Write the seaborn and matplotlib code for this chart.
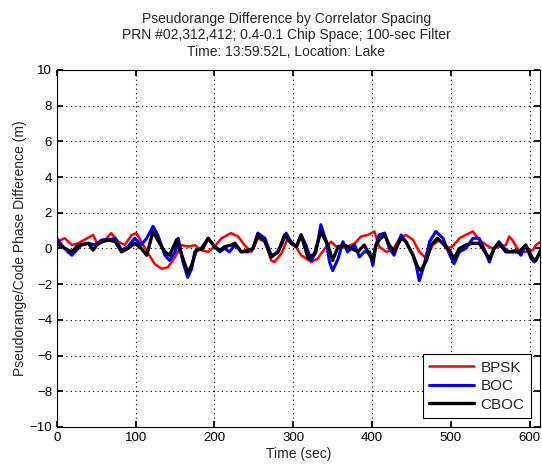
import numpy as np
import pandas as pd
import seaborn as sns
import matplotlib
matplotlib.use("Agg")
import matplotlib.pyplot as plt

# values (time in sec, difference in m)
bpsk_time = [0, 10, 19, 27, 40, 46, 52, 61, 69, 78, 86, 95, 101, 107, 116, 124, 133, 141, 150, 158,
             167, 175, 183, 192, 200, 209, 221, 230, 238, 247, 255, 264, 272, 276, 285, 293, 302, 310,
             323, 331, 340, 348, 357, 369, 378, 386, 395, 403, 409, 418, 426, 435, 443, 452, 460, 469,
             477, 486, 494, 502, 511, 519, 528, 536, 545, 553, 562, 570, 574, 578, 587, 595, 604, 608, 614]
bpsk_diff = [0.38, 0.57, 0.19, 0.29, 0.61, 0.76, 0.19, 0.48, 0.86, 0.38, 0.19, 0.76, 0.86, 0.38, -0.29,
             -0.86, -1.14, -1.05, -0.48, 0.19, 0.10, 0.19, -0.10, -0.19, 0.10, 0.57, 0.86, 0.67, 0.19,
             -0.19, 0.57, 0.38, -0.67, -0.76, -0.29, 0.57, 0.19, -0.38, -0.76, -0.57, 0.0, 0.38, 0.0,
             0.10, 0.29, 0.67, 0.76, 0.95, 0.10, -0.19, -0.10, 0.57, 0.76, 0.48, -0.19, -0.57, 0.19,
             0.48, 0.0, 0.10, 0.57, 0.76, 0.95, 0.48, 0.19, 0.0, 0.10, 0.19, 0.67, 0.48, -0.19, -0.19,
             -0.10, 0.19, 0.38]

boc_time = [0, 6, 14, 19, 25, 31, 40, 48, 57, 65, 74, 82, 90, 99, 107, 114, 122, 128, 137, 143, 150,
            154, 160, 166, 171, 175, 183, 192, 200, 207, 213, 219, 226, 234, 243, 249, 255, 264, 272,
            278, 285, 291, 297, 304, 310, 316, 323, 329, 335, 342, 346, 350, 357, 363, 369, 378, 384,
            390, 397, 401, 405, 409, 416, 422, 428, 437, 443, 452, 456, 460, 466, 473, 481, 490, 498,
            504, 511, 519, 528, 536, 542, 549, 555, 561, 568, 574, 583, 589, 595, 602, 606, 614]
boc_diff = [0.57, 0.19, -0.19, -0.38, -0.10, 0.19, 0.29, 0.19, 0.48, 0.48, 0.57, -0.10, 0.10, 0.57,
            0.19, 0.57, 1.24, 0.76, -0.38, -0.67, -0.19, 0.57, -0.76, -1.62, -1.14, -0.19, 0.0, 0.57,
            0.10, -0.19, 0.0, -0.19, 0.19, -0.19, -0.19, 0.0, 0.86, 0.57, -0.38, -0.29, 0.19, 0.86,
            0.38, 0.10, 0.76, 0.19, -0.67, -0.19, 1.33, 0.38, -0.76, -1.24, -0.57, 0.38, -0.19, 0.19,
            -0.48, -0.19, -0.19, -0.95, 0.19, 0.76, 0.86, 0.0, -0.38, 0.76, 0.38, -0.38, -0.95, -1.81,
            -0.95, 0.38, 0.95, 0.57, -0.29, -0.86, -0.19, 0.0, 0.57, 0.57, 0.0, -0.76, 0.0, 0.38, 0.0,
            -0.19, -0.10, -0.38, 0.19, -0.57, -0.76, -0.19]

cboc_time = [0, 10, 19, 27, 40, 46, 52, 65, 74, 82, 90, 99, 107, 114, 122, 128, 137, 143, 152, 160,
             166, 171, 177, 185, 192, 200, 207, 213, 221, 226, 234, 243, 249, 255, 264, 272, 281, 289,
             297, 304, 310, 319, 327, 335, 344, 350, 357, 365, 374, 382, 390, 397, 401, 405, 409, 416,
             422, 428, 437, 443, 452, 458, 462, 469, 475, 483, 492, 498, 504, 511, 519, 528, 536, 542,
             549, 555, 561, 570, 578, 587, 595, 604, 608, 614]
cboc_diff = [0.29, 0.0, -0.19, 0.19, 0.29, -0.10, 0.29, 0.48, 0.38, -0.19, 0.0, 0.29, 0.0, -0.38,
             0.95, 0.48, -0.19, -0.38, 0.48, -0.57, -1.33, -0.95, -0.10, 0.0, 0.57, 0.10, -0.10, 0.10,
             0.19, 0.29, -0.19, -0.10, 0.0, 0.76, 0.38, -0.48, -0.19, 0.76, 0.29, 0.10, 0.76, -0.57,
             -0.29, 0.95, 0.19, -0.67, 0.10, 0.19, 0.0, -0.19, 0.19, -0.38, -0.67, 0.19, 0.48, 0.76,
             0.19, -0.19, 0.57, 0.38, -0.38, -1.05, -1.24, -0.67, 0.19, 0.57, 0.19, -0.10, -0.57, 0.0,
             0.19, 0.29, 0.29, -0.10, -0.57, 0.0, 0.29, -0.19, -0.19, -0.19, 0.19, -0.57, -0.67, -0.10]

x_ticks = [0, 100, 200, 300, 400, 500, 600]
y_ticks = [-10, -8, -6, -4, -2, 0, 2, 4, 6, 8, 10]

sns.set_theme(style="ticks")
plt.rcParams['font.family'] = ['Liberation Sans', 'DejaVu Sans']

fig = plt.figure(figsize=(5.42, 4.66), dpi=100)
ax = fig.add_axes([0.105, 0.0837, 0.891, 0.7663])

sns.lineplot(x=bpsk_time, y=bpsk_diff, color="#ff0000", linewidth=1.8, label="BPSK", ax=ax)
sns.lineplot(x=boc_time, y=boc_diff, color="#0000ff", linewidth=2.2, label="BOC", ax=ax)
sns.lineplot(x=cboc_time, y=cboc_diff, color="#000000", linewidth=2.4, label="CBOC", ax=ax)

ax.set_xlim(0, 613)
ax.set_ylim(-10, 10)
ax.set_xticks(x_ticks)
ax.set_yticks(y_ticks)
ax.grid(True, linestyle=(0, (1, 3)), color="black", linewidth=0.8)
ax.tick_params(direction="in", top=True, right=True, labelsize=9.5, length=4, colors="black")
for sp in ax.spines.values():
    sp.set_color("black")
    sp.set_linewidth(0.8)

ax.set_xlabel("Time (sec)", fontsize=10, labelpad=2)
ax.set_ylabel("Pseudorange/Code Phase Difference (m)", fontsize=10, labelpad=2)
ax.set_title("Pseudorange Difference by Correlator Spacing\n"
             "PRN #02,312,412; 0.4-0.1 Chip Space; 100-sec Filter\n"
             "Time: 13:59:52L, Location: Lake", fontsize=10, linespacing=1.25, pad=10,
             x=0.475)

leg = ax.legend(loc="lower right", fontsize=11, frameon=True, fancybox=False,
                edgecolor="black", framealpha=1, handlelength=2.9, handletextpad=0.45,
                labelspacing=0.3, borderpad=0.4, borderaxespad=0.6)
leg.get_frame().set_linewidth(0.8)

fig.savefig("out.png", dpi=100)
